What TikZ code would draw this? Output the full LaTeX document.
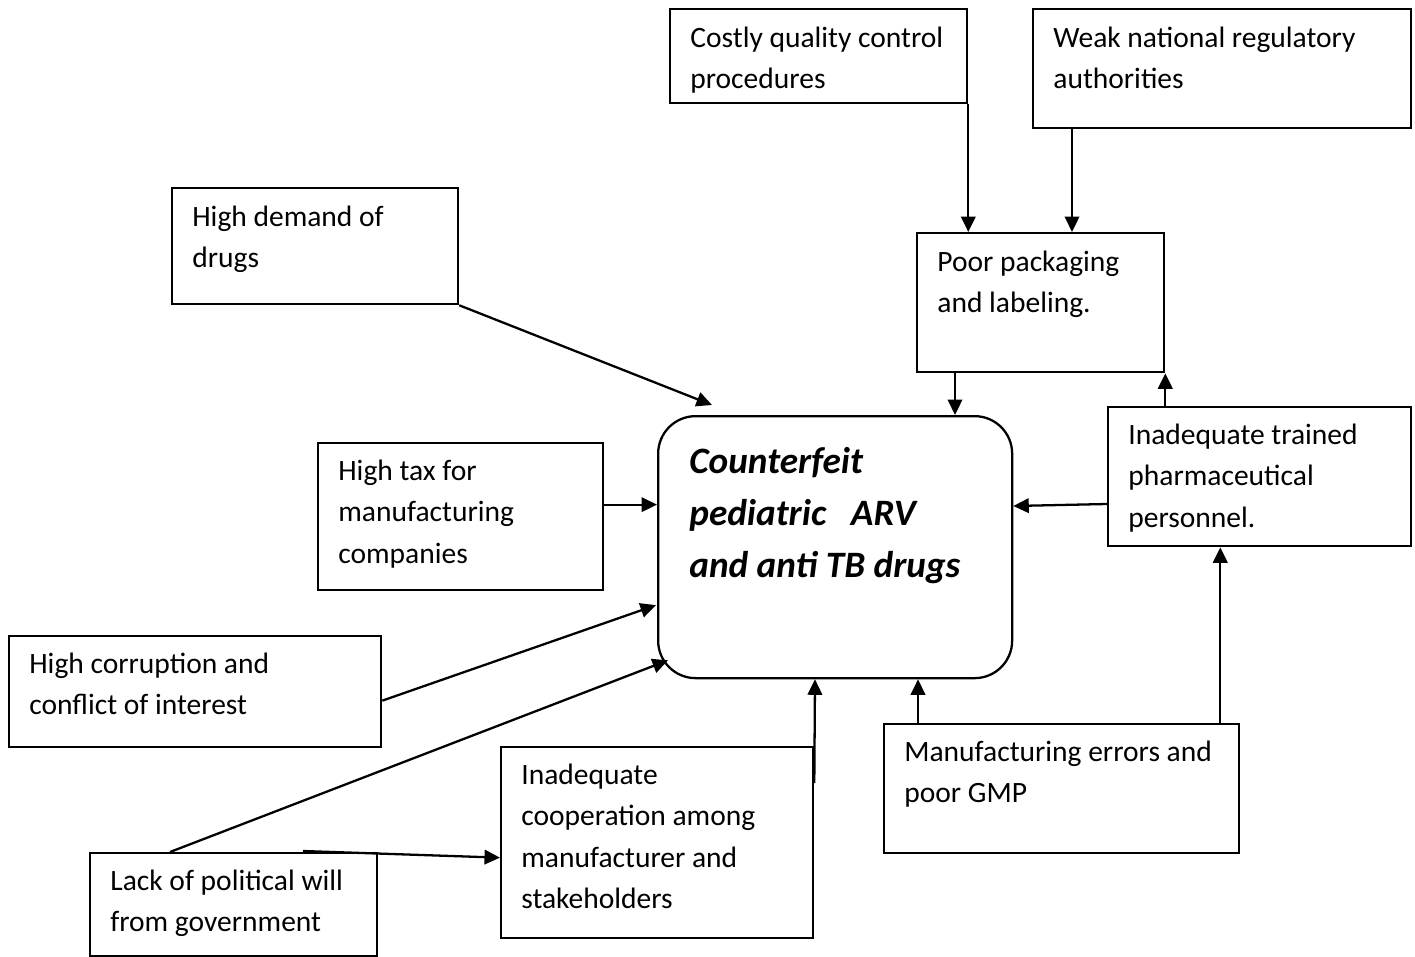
\documentclass[tikz,border=0pt]{standalone}
\usepackage{fontspec}
\setmainfont{Carlito}
\usetikzlibrary{arrows.meta}
\begin{document}
\begin{tikzpicture}[x=0.02cm,y=-0.02cm,
  causebox/.style 2 args={draw,line width=1.3pt,anchor=north west,inner sep=0pt,
    minimum width=#1*0.02cm,minimum height=#2*0.02cm},
  causetext/.style={anchor=base west,align=left,inner sep=0pt,
    font=\fontsize{16.8}{23.6}\selectfont},
  conn/.style={line width=1.3pt,-{Triangle[length=0.31cm,width=0.29cm]}}]
\useasboundingbox (0,0) rectangle (1415,956);
% boxes
\node[causebox={297}{94}] (costly) at (669,8) {};
\node[causebox={378}{119}] (weak) at (1032,8) {};
\node[causebox={286}{116}] (demand) at (171,187) {};
\node[causebox={247}{139}] (poor) at (916,232) {};
\node[causebox={354}{262},rounded corners=0.75cm] (center) at (657,415) {};
\node[causebox={285}{147}] (tax) at (317,442) {};
\node[causebox={303}{139}] (trained) at (1107,406) {};
\node[causebox={372}{111}] (corrupt) at (8,635) {};
\node[causebox={312}{191}] (coop) at (500,746) {};
\node[causebox={355}{129}] (manu) at (883,723) {};
\node[causebox={287}{103}] (lack) at (89,852) {};
% texts (anchored at the baseline of the last line)
\node[causetext] (costly-t) at ([shift={(21,80.6)}]costly.north west) {Costly quality control\\procedures};
\node[causetext] (weak-t) at ([shift={(21,80.6)}]weak.north west) {Weak national regulatory\\authorities};
\node[causetext] (demand-t) at ([shift={(21,80.6)}]demand.north west) {High demand of\\drugs};
\node[causetext] (poor-t) at ([shift={(21,80.6)}]poor.north west) {Poor packaging\\and labeling.};
\node[causetext,font=\fontsize{21.2}{29.5}\selectfont\bfseries\itshape] (center-t)
  at ([shift={(32,162)}]center.north west) {Counterfeit\\pediatric\hspace{14pt}ARV\\and anti TB drugs};
\node[causetext] (tax-t) at ([shift={(21,121.2)}]tax.north west) {High tax for\\manufacturing\\companies};
\node[causetext] (trained-t) at ([shift={(21,121.2)}]trained.north west) {Inadequate trained\\pharmaceutical\\personnel.};
\node[causetext] (corrupt-t) at ([shift={(21,79.6)}]corrupt.north west) {High corruption and\\conflict of interest};
\node[causetext] (coop-t) at ([shift={(21,162.8)}]coop.north west) {Inadequate\\cooperation among\\manufacturer and\\stakeholders};
\node[causetext] (manu-t) at ([shift={(21,79.6)}]manu.north west) {Manufacturing errors and\\poor GMP};
\node[causetext] (lack-t) at ([shift={(21,79.6)}]lack.north west) {Lack of political will\\from government};
% connectors
\coordinate (wk) at ([shift={(40,0)}]weak.south west);
\coordinate (pk) at ([shift={(39,0)}]poor.south west);
\coordinate (tr) at ([shift={(0,98)}]trained.north west);
\coordinate (tx) at ([shift={(0,-12)}]tax.east);
\coordinate (mc) at ([shift={(35,0)}]manu.north west);
\coordinate (mt) at ([shift={(-20,0)}]manu.north east);
\draw[conn] (costly.south east) -- (costly.south east |- poor.north);
\draw[conn] (wk) -- (wk |- poor.north);
\draw[conn] (demand.south east) -- ([shift={(55,-10)}]center.north west);
\draw[conn] (pk) -- (pk |- center.north);
\draw[conn] (poor.south east |- trained.north) -- (poor.south east);
\draw[conn] (tr) -- ([shift={(0,2)}]tr -| center.east);
\draw[conn] (tx) -- (tx -| center.west);
\draw[conn] ([shift={(0,9)}]corrupt.east) -- ([shift={(-1,58)}]center.west);
\draw[conn] ([shift={(81,0)}]lack.north west) -- ([shift={(11,-19)}]center.south west);
\draw[conn] ([shift={(214,-1)}]lack.north west) -- ([shift={(0,15)}]coop.west);
\draw[conn] ([shift={(0,37)}]coop.north east) -- ([shift={(158,0)}]center.south west);
\draw[conn] (mc) -- (mc |- center.south);
\draw[conn] (mt) -- (mt |- trained.south);
\end{tikzpicture}
\end{document}
